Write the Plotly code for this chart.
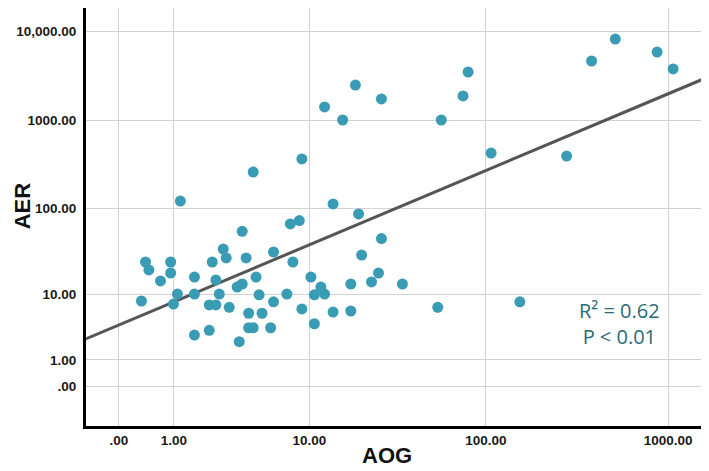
#%% Packages
import numpy as np
import plotly.graph_objects as go

#%% Data (AOG vs AER, SPSS "safe log" axes)
aog = [0.33, 0.40, 0.46, 0.69, 0.92, 0.92, 0.99, 1.09, 1.17, 1.59,
       1.59, 1.59, 2.12, 2.12, 2.24, 2.39, 2.39, 2.54, 2.72, 2.86,
       3.01, 3.43, 3.55, 3.72, 3.72, 3.96, 4.12, 4.12, 4.42, 4.42,
       4.62, 4.84, 5.06, 5.75, 6.0, 6.0, 7.28, 7.65, 7.93, 8.68,
       9.0, 9.0, 10.2, 10.7, 10.7, 11.7, 12.3, 12.3, 13.8, 13.8,
       15.7, 17.5, 17.5, 18.6, 19.4, 20.2, 23.0, 25.2, 26.2, 26.2,
       34.4, 54.2, 56.7, 74.9, 79.9, 107, 154, 278, 381, 514,
       870, 1064]
aer = [8.2, 24.3, 19.6, 14.5, 24.3, 18.0, 7.5, 10.0, 122, 16.1,
       10.0, 2.8, 7.3, 3.3, 24.3, 14.9, 7.3, 10.0, 34.4, 27.1,
       6.8, 12.2, 2.2, 55, 13.3, 27.1, 3.6, 5.7, 260, 3.6,
       16.1, 9.8, 5.7, 3.6, 31.8, 8.0, 10.0, 67, 24.3, 73,
       365, 6.5, 16.1, 9.8, 4.1, 12.2, 10.0, 1409, 5.9, 113,
       1005, 13.3, 6.1, 2490, 87, 29.3, 14.1, 18.0, 1734, 45.5,
       13.3, 6.8, 1005, 1875, 3493, 426, 8.0, 394, 4645, 8204,
       5861, 3776]

# fit line end points, as drawn in the figure
fit_aog = [-0.34, 1550]
fit_aer = [2.44, 2900]

x_ticks = [0, 1, 10, 100, 1000]
x_tick_text = ['.00', '1.00', '10.00', '100.00', '1000.00']
y_ticks = [0, 1, 10, 100, 1000, 10000]
y_tick_text = ['.00', '1.00', '10.00', '100.00', '1000.00', '10,000.00']

# safe log: log10(1 + v), so shift by one and use a log axis
def shift(v):
    return np.asarray(v, dtype=float) + 1

#%% Plot
fig = go.Figure()
fig.add_trace(go.Scatter(x=shift(fit_aog), y=shift(fit_aer), mode='lines',
                         line=dict(color='#555555', width=3), hoverinfo='skip'))
fig.add_trace(go.Scatter(x=shift(aog), y=shift(aer), mode='markers',
                         marker=dict(color='#3a9cb4', size=11, line=dict(width=0))))

axis_font = dict(family='Liberation Sans', size=13.5, color='#1a1a1a', weight='bold')
fig.update_xaxes(type='log', range=[-0.179, 3.207], tickvals=shift(x_ticks), ticktext=x_tick_text,
                 showgrid=True, gridcolor='#d2d2d2', gridwidth=1, showline=True, linecolor='black',
                 linewidth=3, ticks='', tickfont=axis_font)
fig.update_yaxes(type='log', range=[-0.444, 4.264], tickvals=shift(y_ticks), ticktext=y_tick_text,
                 showgrid=True, gridcolor='#d2d2d2', gridwidth=1, showline=True, linecolor='black',
                 linewidth=3, ticks='', tickfont=axis_font, ticklabelstandoff=4)

title_font = dict(family='Liberation Sans', size=22, color='#111111', weight='bold')
fig.add_annotation(text='AOG', xref='paper', yref='paper', x=0.4855, y=-0.0694,
                   xanchor='center', yanchor='middle', showarrow=False, font=title_font)
fig.add_annotation(text='AER', xref='paper', yref='paper', x=-0.103, y=0.526,
                   xanchor='center', yanchor='middle', textangle=-90, borderpad=0,
                   showarrow=False, font=title_font)

stat_font = dict(family='Open Sans', size=20, color='#2b6a78')
fig.add_annotation(text='R² = 0.62<br>P < 0.01', xref='paper', yref='paper', x=0.861, y=0.245,
                   xanchor='center', yanchor='middle', align='center', showarrow=False, font=stat_font)

# the page adds an 8px body margin, so the figure is 8px smaller than the window
fig.update_layout(width=701, height=463, margin=dict(l=78, r=3, t=0, b=45),
                  plot_bgcolor='white', paper_bgcolor='white', showlegend=False)
fig.write_html('out.html')
